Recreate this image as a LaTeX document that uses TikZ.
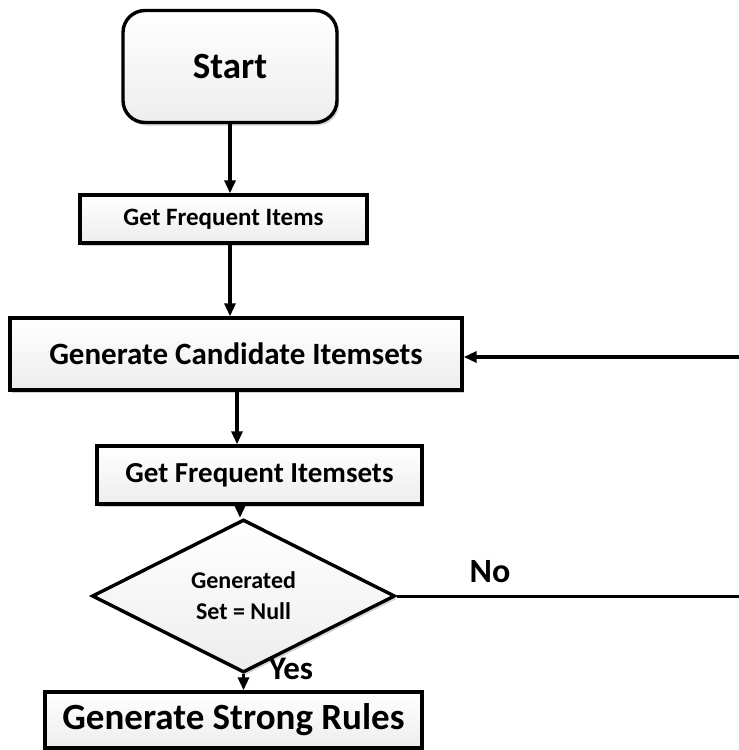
\documentclass[tikz,border=0pt]{standalone}
\usepackage{fontspec}
\setmainfont{Carlito}
\usetikzlibrary{arrows.meta,shapes.geometric,shadows,calc}

\tikzset{
  box/.style={draw=black, line width=3.4pt, inner sep=0pt, align=center,
    top color=white, bottom color=gray!14, font=\bfseries,
    drop shadow={shadow xshift=2pt, shadow yshift=-3pt, opacity=.35, fill=gray}},
  decision/.style={diamond, draw=black, line width=3.4pt, inner sep=0pt,
    align=center, top color=white, bottom color=gray!14, font=\bfseries,
    drop shadow={shadow xshift=2pt, shadow yshift=-3pt, opacity=.35, fill=gray}},
  arr/.style={line width=3.2pt, -{Triangle[length=13pt,width=11pt]}},
  plain/.style={line width=3pt},
  lbl/.style={font=\bfseries, inner sep=0pt}
}

\begin{document}
\begin{tikzpicture}[x=1pt, y=-1pt]
  \useasboundingbox (0,0) rectangle (739,750);

  % process steps
  \node[box, rounded corners=22pt, minimum width=214pt, minimum height=112pt,
        font=\bfseries\fontsize{37}{44}\selectfont] (start) at (230,66.5) {Start};
  \node[box, minimum width=287pt, minimum height=48pt,
        font=\bfseries\fontsize{25}{30}\selectfont] (gfi) at (223.5,219) {Get Frequent Items};
  \node[box, minimum width=452pt, minimum height=72pt,
        font=\bfseries\fontsize{31}{37}\selectfont] (gci) at (236,354) {Generate Candidate Itemsets};
  \node[box, minimum width=325pt, minimum height=58pt,
        font=\bfseries\fontsize{29}{35}\selectfont] (gsi) at (259.5,475) {Get Frequent Itemsets};
  \node[decision, minimum width=303pt, minimum height=115pt,
        font=\bfseries\fontsize{24}{31}\selectfont] (dia) at (243.5,596) {Generated\\Set = Null};
  \node[box, minimum width=377pt, minimum height=56pt,
        font=\bfseries\fontsize{37}{44}\selectfont] (gsr) at (233.5,720) {Generate Strong Rules};

  % loop ends at the right margin
  \coordinate (fb) at (739,357);
  \coordinate (noend) at (739,596);

  % connectors
  \draw[arr] (start.south) -- (start.south |- gfi.north);
  \draw[arr] ([xshift=6.5pt]gfi.south) -- ([xshift=6.5pt]gfi.south |- gci.north);
  \draw[arr] ([xshift=1pt]gci.south) -- ([xshift=1pt]gci.south |- gsi.north);
  \draw[arr] ([xshift=-19.5pt]gsi.south) -- ([xshift=-19.5pt]gsi.south |- dia.north);
  \draw[arr] (dia.south) -- (dia.south |- gsr.north);
  \draw[arr] (fb) -- (fb -| gci.east);
  \draw[plain] (dia.east) -- (noend);

  % branch labels
  \node[lbl, font=\bfseries\fontsize{34}{40}\selectfont] (no) at (490,572) {No};
  \node[lbl, font=\bfseries\fontsize{33}{40}\selectfont] (yes) at (291,669) {Yes};
\end{tikzpicture}
\end{document}
